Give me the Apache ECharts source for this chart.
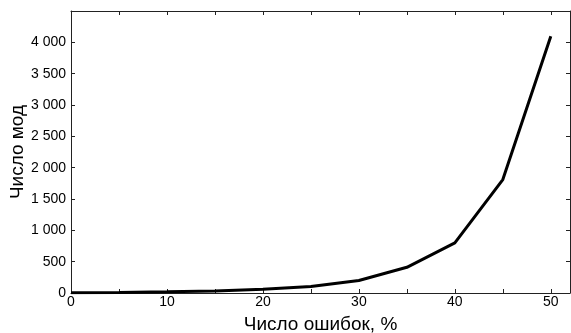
<!DOCTYPE html>
<html><head><meta charset="utf-8">
<script src="https://cdn.jsdelivr.net/npm/echarts@6/dist/echarts.min.js"></script>
<style>html,body{margin:0;padding:0;background:#fff}#c{width:571px;height:333px}</style>
</head><body><div id="c"></div>
<script>
const errorsPct = [0, 5, 10, 15, 20, 25, 30, 35, 40, 45, 50];
const modeCounts = [2, 8, 18, 32, 60, 105, 200, 410, 800, 1810, 4096];
const xTitle = 'Число ошибок, %';
const yTitle = 'Число мод';

function fmt(v){
  const s = String(Math.round(v));
  return s.replace(/\B(?=(\d{3})+(?!\d))/g, ' ');
}
const font = 'Liberation Sans, Arial, sans-serif';
const axisCol = '#222';
const chart = echarts.init(document.getElementById('c'));
const baseX = {
  type: 'value', min: 0, max: 52, interval: 5,
  axisLine: {show: true, onZero: false, lineStyle: {color: axisCol, width: 1}},
  axisTick: {show: true, inside: true, length: 4, lineStyle: {color: axisCol}},
  splitLine: {show: false}
};
const baseY = {
  type: 'value', min: 0, max: 4500, interval: 500,
  axisLine: {show: true, onZero: false, lineStyle: {color: axisCol, width: 1}},
  axisTick: {show: true, inside: true, length: 4, lineStyle: {color: axisCol}},
  splitLine: {show: false}
};
chart.setOption({
  animation: false,
  backgroundColor: '#fff',
  grid: {left: 71, right: 1, top: 11, bottom: 40, containLabel: false, outerBoundsMode: 'none'},
  xAxis: [
    Object.assign({}, baseX, {
      position: 'bottom', name: xTitle, nameLocation: 'middle', nameGap: 22,
      nameMoveOverlap: false,
      nameTextStyle: {fontFamily: font, fontSize: 19, color: '#000'},
      axisLabel: {fontFamily: font, fontSize: 14, color: '#000', margin: 2,
        showMaxLabel: false,
        formatter: v => (v % 10 === 0 ? String(v) : '')}
    }),
    Object.assign({}, baseX, {position: 'top', axisLabel: {show: false}})
  ],
  yAxis: [
    Object.assign({}, baseY, {
      position: 'left', name: yTitle, nameLocation: 'middle', nameGap: 44,
      nameMoveOverlap: false,
      nameTextStyle: {fontFamily: font, fontSize: 19, color: '#000'},
      axisLabel: {fontFamily: font, fontSize: 14, color: '#000', margin: 5,
        showMaxLabel: false, formatter: v => fmt(v)}
    }),
    Object.assign({}, baseY, {position: 'right', axisLabel: {show: false}})
  ],
  series: [{
    type: 'line',
    data: errorsPct.map((x, i) => [x, modeCounts[i]]),
    showSymbol: false,
    lineStyle: {color: '#000', width: 3},
    itemStyle: {color: '#000'}
  }]
});
</script></body></html>
